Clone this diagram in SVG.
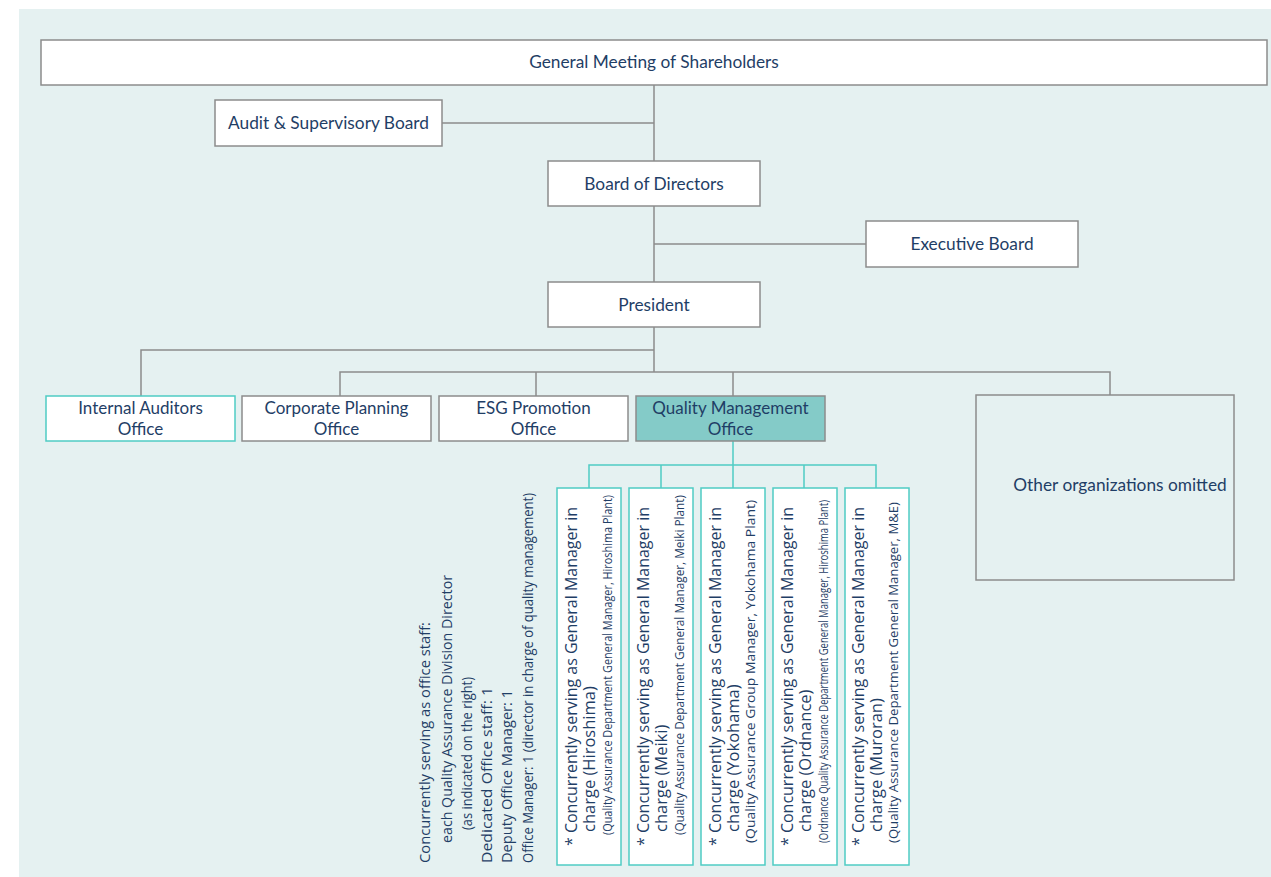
<svg xmlns="http://www.w3.org/2000/svg" width="1271" height="877" viewBox="0 0 1271 877">
<style>
text{font-family:"Open Sans","Noto Sans","Liberation Sans",sans-serif;fill:#1f3e66}
.lbl{font-family:Lato,"Open Sans",sans-serif;font-size:17.3px;text-anchor:middle}
.lbl2{font-family:Lato,"Open Sans",sans-serif;font-size:17px;text-anchor:middle}
.box{fill:#fff;stroke:#8c8c8c;stroke-width:1.5}
.tbox{fill:#fff;stroke:#4fccc4;stroke-width:1.5}
.gl{fill:none;stroke:#8c8c8c;stroke-width:1.5}
.tl{fill:none;stroke:#4fccc4;stroke-width:1.5}
.v1{font-size:16.5px}
.v3{font-size:12px}
.note{font-size:14px}
</style>
<rect x="19" y="9" width="1252" height="868" fill="#e5f1f1"/>
<g id="connectors">
<path class="gl" d="M654 85V372M442 123H654M654 244H866M141 396V350H654M340 396V372H1110V395M536 372V396M733 372V396"/>
<path class="tl" d="M733 441V465M589 488V465H876V488M661 465V488M733 465V488M804 465V488"/>
</g>
<g id="n-shareholders"><rect class="box" x="41" y="40" width="1226" height="45"/><text class="lbl" x="654" y="68">General Meeting of Shareholders</text></g>
<g id="n-audit"><rect class="box" x="215" y="100" width="227" height="46"/><text class="lbl" x="328.500" y="129">Audit &amp; Supervisory Board</text></g>
<g id="n-board"><rect class="box" x="548" y="161" width="212" height="45"/><text class="lbl" x="654" y="190">Board of Directors</text></g>
<g id="n-exec"><rect class="box" x="866" y="221" width="212" height="46"/><text class="lbl" x="972" y="250">Executive Board</text></g>
<g id="n-president"><rect class="box" x="548" y="282" width="212" height="45"/><text class="lbl" x="654" y="311">President</text></g>
<g id="n-internal"><rect class="tbox" x="46" y="396" width="189" height="45"/><text class="lbl2" x="140.500" y="414">Internal Auditors</text><text class="lbl2" x="140.500" y="434.600">Office</text></g>
<g id="n-corp"><rect class="box" x="242" y="396" width="189" height="45"/><text class="lbl2" x="336.500" y="414">Corporate Planning</text><text class="lbl2" x="336.500" y="434.600">Office</text></g>
<g id="n-esg"><rect class="box" x="439" y="396" width="189" height="45"/><text class="lbl2" x="533.500" y="414">ESG Promotion</text><text class="lbl2" x="533.500" y="434.600">Office</text></g>
<g id="n-qmo"><rect x="636" y="396" width="189" height="45" fill="#84cbc8" stroke="#8c8c8c" stroke-width="1.5"/><text class="lbl2" x="730.500" y="414">Quality Management</text><text class="lbl2" x="730.500" y="434.600">Office</text></g>
<g id="n-other"><rect x="976" y="395" width="258" height="185" fill="#e5f1f1" stroke="#8c8c8c" stroke-width="1.5"/><text class="lbl" x="1120" y="491">Other organizations omitted</text></g>
<g id="n-note">
<text class="note" transform="translate(430,863) rotate(-90)" textLength="241" lengthAdjust="spacingAndGlyphs">Concurrently serving as office staff:</text>
<text class="note" transform="translate(452,843) rotate(-90)" textLength="268" lengthAdjust="spacingAndGlyphs">each Quality Assurance Division Director</text>
<text class="note" transform="translate(472,830) rotate(-90)" textLength="153" lengthAdjust="spacingAndGlyphs">(as indicated on the right)</text>
<text class="note" transform="translate(492,863) rotate(-90)" textLength="176" lengthAdjust="spacingAndGlyphs">Dedicated Office staff: 1</text>
<text class="note" transform="translate(512,863) rotate(-90)" textLength="173" lengthAdjust="spacingAndGlyphs">Deputy Office Manager: 1</text>
<text class="note" transform="translate(533,863) rotate(-90)" textLength="370" lengthAdjust="spacingAndGlyphs">Office Manager: 1 (director in charge of quality management)</text>
</g>
<g id="n-hiroshima"><rect class="tbox" x="557" y="488" width="64" height="377"/>
<text class="v1" transform="translate(577,846) rotate(-90)" textLength="339" lengthAdjust="spacingAndGlyphs">* Concurrently serving as General Manager in</text>
<text class="v1" transform="translate(595,832) rotate(-90)">charge (Hiroshima)</text>
<text class="v3" transform="translate(612,835) rotate(-90)" textLength="340" lengthAdjust="spacingAndGlyphs">(Quality Assurance Department General Manager, Hiroshima Plant)</text></g>
<g id="n-meiki"><rect class="tbox" x="629" y="488" width="64" height="377"/>
<text class="v1" transform="translate(649,846) rotate(-90)" textLength="339" lengthAdjust="spacingAndGlyphs">* Concurrently serving as General Manager in</text>
<text class="v1" transform="translate(667,832) rotate(-90)">charge (Meiki)</text>
<text class="v3" transform="translate(684,835) rotate(-90)" textLength="340" lengthAdjust="spacingAndGlyphs">(Quality Assurance Department General Manager, Meiki Plant)</text></g>
<g id="n-yokohama"><rect class="tbox" x="701" y="488" width="64" height="377"/>
<text class="v1" transform="translate(721,846) rotate(-90)" textLength="339" lengthAdjust="spacingAndGlyphs">* Concurrently serving as General Manager in</text>
<text class="v1" transform="translate(739,832) rotate(-90)">charge (Yokohama)</text>
<text class="v3" transform="translate(755,843) rotate(-90)" textLength="343" lengthAdjust="spacingAndGlyphs">(Quality Assurance Group Manager, Yokohama Plant)</text></g>
<g id="n-ordnance"><rect class="tbox" x="773" y="488" width="64" height="377"/>
<text class="v1" transform="translate(793,846) rotate(-90)" textLength="339" lengthAdjust="spacingAndGlyphs">* Concurrently serving as General Manager in</text>
<text class="v1" transform="translate(811,832) rotate(-90)">charge (Ordnance)</text>
<text class="v3" transform="translate(828,843) rotate(-90)" textLength="343" lengthAdjust="spacingAndGlyphs">(Ordnance Quality Assurance Department General Manager, Hiroshima Plant)</text></g>
<g id="n-muroran"><rect class="tbox" x="845" y="488" width="64" height="377"/>
<text class="v1" transform="translate(864,846) rotate(-90)" textLength="339" lengthAdjust="spacingAndGlyphs">* Concurrently serving as General Manager in</text>
<text class="v1" transform="translate(882,832) rotate(-90)">charge (Muroran)</text>
<text class="v3" transform="translate(898,843) rotate(-90)" textLength="341" lengthAdjust="spacingAndGlyphs">(Quality Assurance Department General Manager, M&amp;E)</text></g>
</svg>
